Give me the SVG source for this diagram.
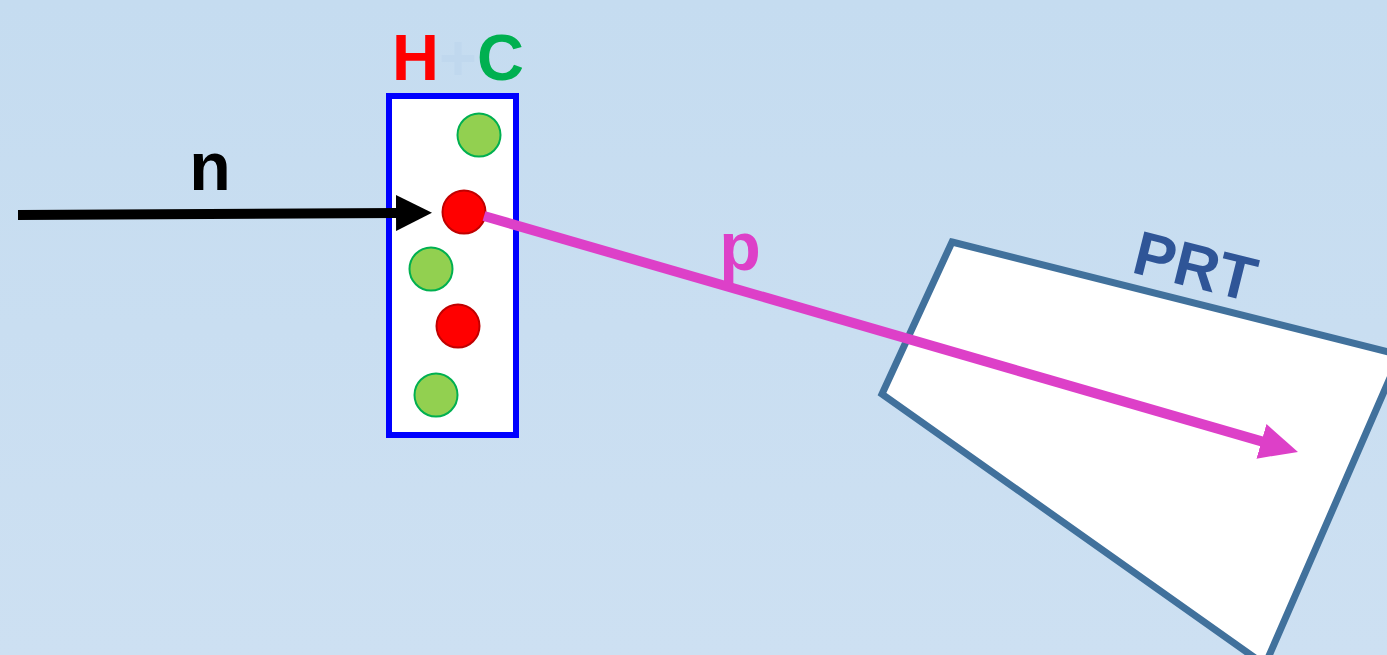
<svg xmlns="http://www.w3.org/2000/svg" width="1387" height="655" viewBox="0 0 1387 655">
  <defs>
    <linearGradient id="bg" x1="0" y1="0" x2="0" y2="1">
      <stop offset="0" stop-color="#c5dcf0"/>
      <stop offset="1" stop-color="#cde0f2"/>
    </linearGradient>
    <!-- heads start at their base (refX=2 overlaps the shaft slightly) -->
    <marker id="headBlack" markerUnits="userSpaceOnUse" markerWidth="36" markerHeight="36" viewBox="0 0 36 36" refX="2" refY="18" orient="auto">
      <path d="M0,0 L36,18 L0,36 Z" fill="#000"/>
    </marker>
    <marker id="headPink" markerUnits="userSpaceOnUse" markerWidth="38" markerHeight="36" viewBox="0 0 38 36" refX="2" refY="18" orient="auto">
      <path d="M0,0 L38,18 L0,36 Z" fill="#dd40c8"/>
    </marker>
  </defs>
  <style>
    .lbl { font-family: "Liberation Sans", Arial, sans-serif; font-weight: bold; }
    .green { fill: #92d050; stroke: #00b050; stroke-width: 2; }
    .red { fill: #ff0000; stroke: #c00000; stroke-width: 2; }
  </style>

  <rect x="0" y="0" width="1387" height="655" fill="url(#bg)"/>

  <!-- detector plane -->
  <g id="prt">
    <polygon points="952,242 1400,355 1265,665 882,394" fill="#fff" stroke="#41719c" stroke-width="7" stroke-linejoin="miter"/>
    <text class="lbl" x="1130" y="272" font-size="62" fill="#2f5597" transform="rotate(14 1130 272)">PRT</text>
  </g>

  <!-- target -->
  <g id="target">
    <rect x="389" y="96" width="127" height="339" fill="#fff" stroke="#0000ff" stroke-width="6"/>
    <text class="lbl" x="392" y="80" font-size="65"><tspan fill="#ff0000">H</tspan><tspan fill="#c0d8ee">+</tspan><tspan fill="#00b050">C</tspan></text>
    <circle class="green" cx="479" cy="135" r="21.5"/>
    <circle class="red" cx="464" cy="212" r="21.5"/>
    <circle class="green" cx="431" cy="269" r="21.5"/>
    <circle class="red" cx="458" cy="326" r="21.5"/>
    <circle class="green" cx="436" cy="395" r="21.5"/>
  </g>

  <!-- connectors -->
  <g id="connectors">
    <line x1="18" y1="215" x2="398" y2="213" stroke="#000" stroke-width="10" marker-end="url(#headBlack)"/>
    <line x1="484" y1="216" x2="1263.4" y2="441.9" stroke="#dd40c8" stroke-width="10" marker-end="url(#headPink)"/>
    <text class="lbl" x="210" y="190" font-size="68" fill="#000" text-anchor="middle">n</text>
    <text class="lbl" x="740" y="270" font-size="68" fill="#dd40c8" text-anchor="middle">p</text>
  </g>
</svg>
